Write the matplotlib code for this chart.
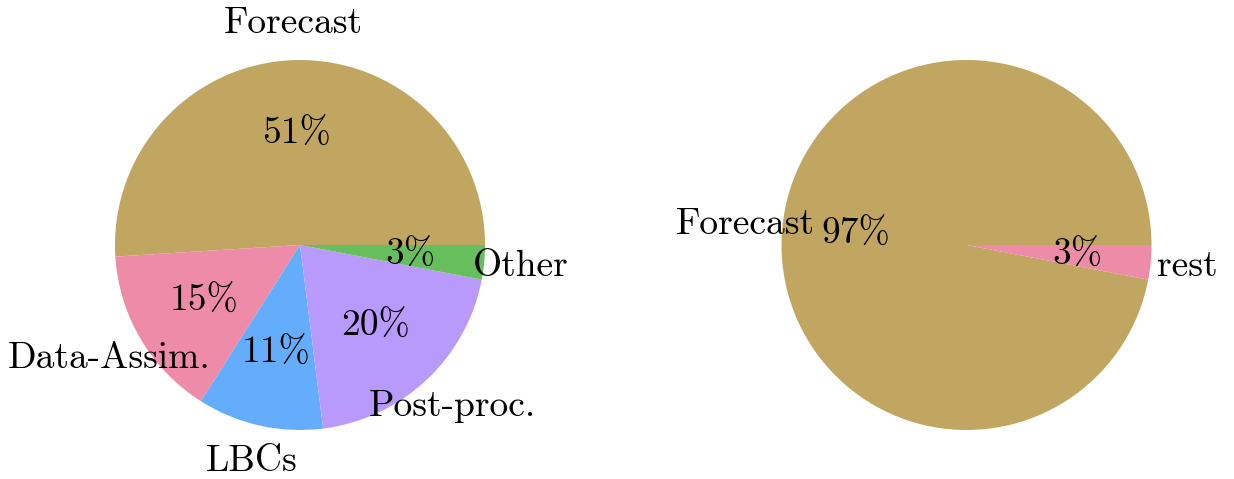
import matplotlib
matplotlib.use("Agg")
import matplotlib.pyplot as plt

plt.rcParams['font.family'] = ['cmr10', 'DejaVu Serif']
plt.rcParams['mathtext.fontset'] = 'cm'
plt.rcParams['axes.formatter.use_mathtext'] = True

left_labels = ["Forecast", "Data-Assim.", "LBCs", "Post-proc.", "Other"]
left_values = [51, 15, 11, 20, 3]
left_colors = ["#c0a660", "#ed8ba8", "#64adfd", "#b89afd", "#66bf5c"]

right_labels = ["Forecast", "rest"]
right_values = [97, 3]
right_colors = ["#c0a660", "#ed8ba8"]

W, H = 1234, 479
R = 185.0  # pie radius in pixels
cy = 245   # pie centre from top, pixels

fig = plt.figure(figsize=(W / 100, H / 100), dpi=100)


def make_axes(x0, x1, cx):
    ax = fig.add_axes([x0 / W, 0, (x1 - x0) / W, 1])
    return ax, (x0 - cx) / R, (x1 - cx) / R


def draw(ax, xl, xr, values, labels, colors):
    wedges, texts, autotexts = ax.pie(
        values, labels=labels, colors=colors, startangle=0,
        counterclock=True, autopct=lambda p: f"{p:.0f}%",
        pctdistance=0.6, labeldistance=1.2, radius=1,
        textprops=dict(fontsize=27, color="black"))
    for t in texts:
        t.set_horizontalalignment("center")
        t.set_verticalalignment("center")
    ax.set_aspect("auto")
    ax.set_xlim(xl, xr)
    ax.set_ylim(-(H - cy) / R, cy / R)
    ax.axis("off")


ax1, l1, r1 = make_axes(0, 600, 300)
draw(ax1, l1, r1, left_values, left_labels, left_colors)

ax2, l2, r2 = make_axes(650, 1234, 966.5)
draw(ax2, l2, r2, right_values, right_labels, right_colors)

fig.savefig("out.png", dpi=100)
